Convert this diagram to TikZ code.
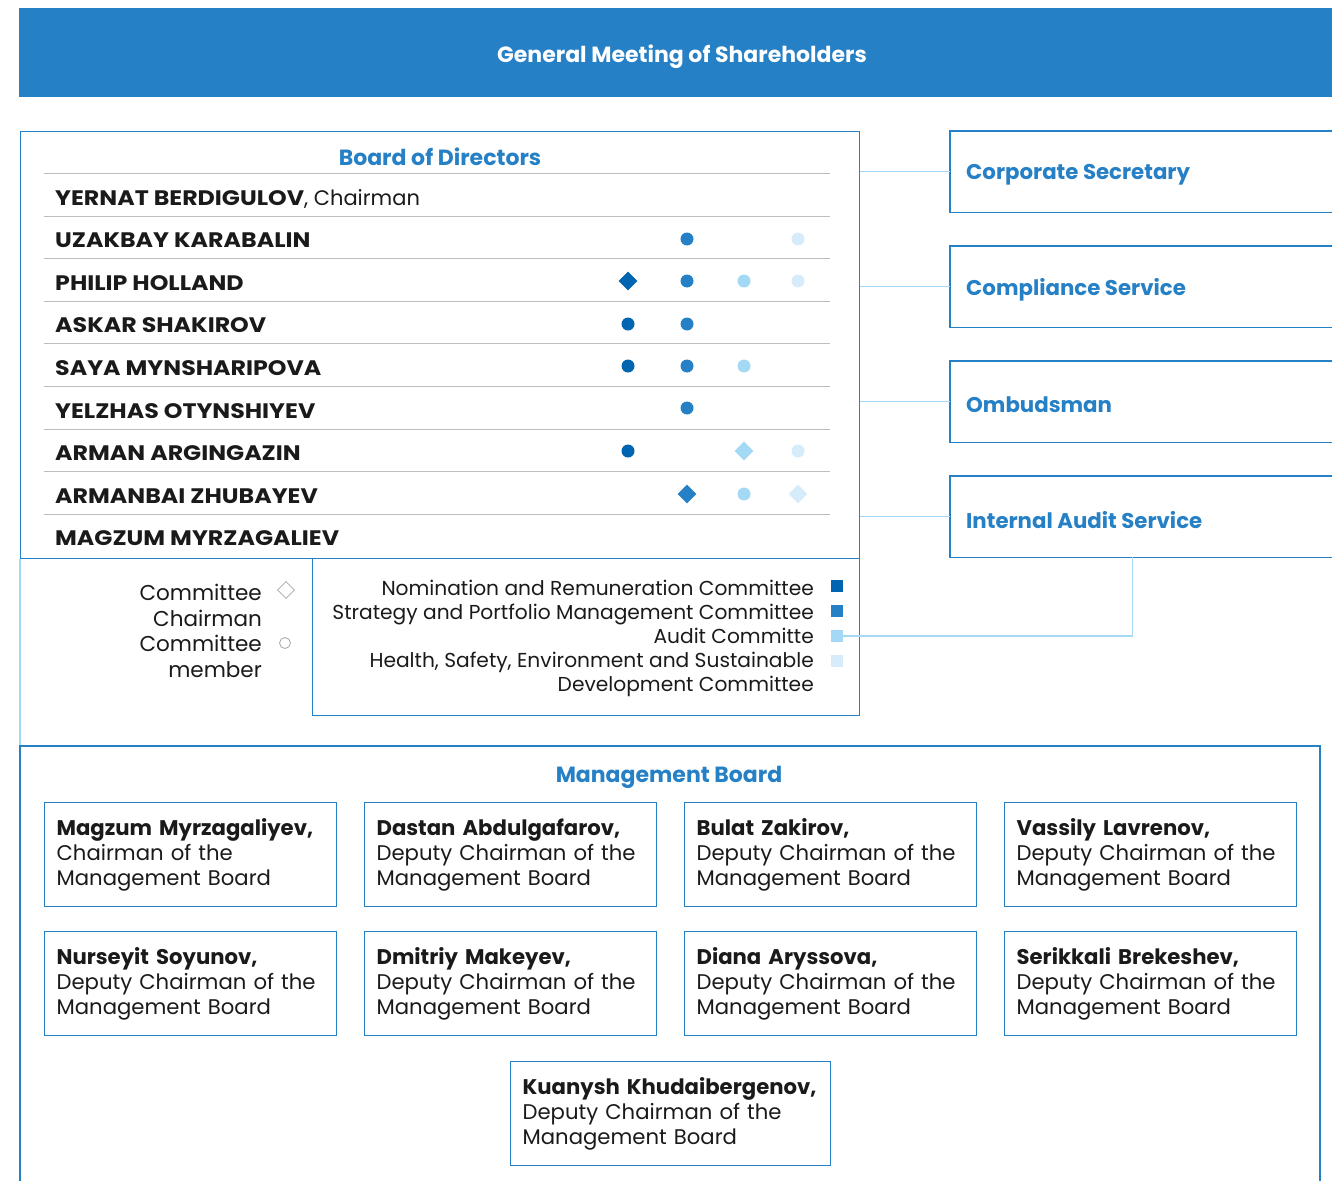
\documentclass[tikz,border=0pt]{standalone}
\usepackage{fontspec}
\setmainfont{Poppins}
\newfontfamily\capsfont{Poppins}[FakeStretch=1.13]
\usetikzlibrary{shapes.geometric,calc}
\definecolor{mainblue}{HTML}{2680C5}
\definecolor{darkblue}{HTML}{0065B0}
\definecolor{lightblue}{HTML}{A3D9F5}
\definecolor{paleblue}{HTML}{D6ECFA}
\definecolor{sepgray}{HTML}{BDBDBD}
\definecolor{txt}{HTML}{1A1A1A}
\begin{document}
\begin{tikzpicture}[x=1pt,y=-1pt,
  boxline/.style={draw=mainblue, line width=1.2pt},
  conn/.style={draw=lightblue, line width=1.2pt},
  sepline/.style={draw=sepgray, line width=1pt},
  heading/.style={text=mainblue, font=\fontsize{22}{26}\selectfont\bfseries, inner sep=0pt},
  svc/.style={text=mainblue, font=\fontsize{21.3}{25}\selectfont\bfseries, inner sep=0pt, anchor=west},
  rowname/.style={text=txt, font=\fontsize{21}{25}\selectfont, inner sep=0pt, anchor=base west},
  dotmark/.style={circle, fill=#1, minimum size=13pt, inner sep=0pt},
  diamark/.style={diamond, fill=#1, minimum size=19pt, inner sep=0pt},
  legtext/.style={text=txt, font=\fontsize{20.2}{24.2}\selectfont, inner sep=0pt, align=right, anchor=north east},
  mbox/.style={draw=mainblue, line width=1.2pt, minimum width=292pt, minimum height=104pt, text width=268pt,
     inner xsep=12pt, inner ysep=0pt, align=left, anchor=north west, text=txt, font=\fontsize{21.2}{25}\selectfont},
]
\useasboundingbox (0,0) rectangle (1332,1180);
% banner
\node[fill=mainblue, minimum width=1313pt, minimum height=89pt, anchor=north west, inner sep=0pt] (gms) at (19,8) {};
\node[text=white, font=\fontsize{22}{26}\selectfont\bfseries, inner sep=0pt] (gmst) at (682,57) {General Meeting of Shareholders};
% board of directors
\node[boxline, minimum width=839pt, minimum height=427pt, anchor=north west, inner sep=0pt] (board) at (20,131) {};
\node[heading] (bodt) at (440,157) {Board of Directors};
\foreach \y in {173,216,258,301,343,386,429,471,514} \draw[sepline] (44,\y) -- (830,\y);
\node[rowname] (r1) at (55,205) {{\capsfont\bfseries YERNAT BERDIGULOV}, Chairman};
\node[rowname] (r2) at (55,247) {\capsfont\bfseries UZAKBAY KARABALIN};
\node[rowname] (r3) at (55,290) {\capsfont\bfseries PHILIP HOLLAND};
\node[rowname] (r4) at (55,332) {\capsfont\bfseries ASKAR SHAKIROV};
\node[rowname] (r5) at (55,375) {\capsfont\bfseries SAYA MYNSHARIPOVA};
\node[rowname] (r6) at (55,418) {\capsfont\bfseries YELZHAS OTYNSHIYEV};
\node[rowname] (r7) at (55,460) {\capsfont\bfseries ARMAN ARGINGAZIN};
\node[rowname] (r8) at (55,503) {\capsfont\bfseries ARMANBAI ZHUBAYEV};
\node[rowname] (r9) at (55,545) {\capsfont\bfseries MAGZUM MYRZAGALIEV};
% marks
\node[dotmark=mainblue] (m22) at (687,239) {};
\node[dotmark=paleblue] (m24) at (798,239) {};
\node[diamark=darkblue] (m31) at (628,281) {};
\node[dotmark=mainblue] (m32) at (687,281) {};
\node[dotmark=lightblue] (m33) at (744,281) {};
\node[dotmark=paleblue] (m34) at (798,281) {};
\node[dotmark=darkblue] (m41) at (628,324) {};
\node[dotmark=mainblue] (m42) at (687,324) {};
\node[dotmark=darkblue] (m51) at (628,366) {};
\node[dotmark=mainblue] (m52) at (687,366) {};
\node[dotmark=lightblue] (m53) at (744,366) {};
\node[dotmark=mainblue] (m62) at (687,408) {};
\node[dotmark=darkblue] (m71) at (628,451) {};
\node[diamark=lightblue] (m73) at (744,451) {};
\node[dotmark=paleblue] (m74) at (798,451) {};
\node[diamark=mainblue] (m82) at (687,494) {};
\node[dotmark=lightblue] (m83) at (744,494) {};
\node[diamark=paleblue] (m84) at (798,494) {};
% legend box
\node[boxline, minimum width=547pt, minimum height=157pt, anchor=north west, inner sep=0pt] (leg) at (312,558) {};
\node[legtext] (lt) at (814,579.5) {Nomination and Remuneration Committee\\Strategy and Portfolio Management Committee\\Audit Committe\\Health, Safety, Environment and Sustainable\\Development Committee};
\node[fill=darkblue, minimum size=12pt, inner sep=0pt] (sq1) at (837,586) {};
\node[fill=mainblue, minimum size=12pt, inner sep=0pt] (sq2) at (837,611) {};
\node[fill=lightblue, minimum size=12pt, inner sep=0pt] (sq3) at (837,636) {};
\node[fill=paleblue, minimum size=12pt, inner sep=0pt] (sq4) at (837,661) {};
% left legend
\node[legtext, text width=160pt, font=\fontsize{21.5}{25.6}\selectfont] (kl) at (262,584) {Committee\\Chairman\\Committee\\member};
\node[diamond, draw=gray!70, line width=0.8pt, minimum size=17pt, inner sep=0pt] (kd) at (286,590) {};
\node[circle, draw=gray!70, line width=0.8pt, minimum size=11pt, inner sep=0pt] (kc) at (285,643) {};
% service boxes
\foreach \n/\y/\t in {cs/131/Corporate Secretary, cps/246/Compliance Service, omb/361/Ombudsman, ias/476/Internal Audit Service}{
  \node[minimum width=382pt, minimum height=81pt, anchor=north west, inner sep=0pt] (\n) at (950,\y) {};
  \draw[boxline] (\n.north east) -- (\n.north west) -- (\n.south west) -- (\n.south east);
  \node[svc] (\n t) at ($(\n.west)+(16,3)$) {\t};
}
\foreach \n in {cs,cps,omb,ias} \draw[conn] (board.east |- \n.west) -- (\n.west);
\draw[conn] (sq3.east) -| ([xshift=-9pt]ias.south);
% management board
\coordinate (mbtl) at (20,746);
\coordinate (mbtr) at (1320,746);
\draw[conn] (board.south west) -- (mbtl);
\draw[boxline] (20,1181) -- (mbtl) -- (mbtr) -- (1320,1181);
\node[heading] (mbt) at (669,777) {Management Board};
\node[mbox] (p1) at (44,802) {\textbf{Magzum Myrzagaliyev,}\\Chairman of the\\Management Board};
\node[mbox] (p2) at (364,802) {\textbf{Dastan Abdulgafarov,}\\Deputy Chairman of the\\Management Board};
\node[mbox] (p3) at (684,802) {\textbf{Bulat Zakirov,}\\Deputy Chairman of the\\Management Board};
\node[mbox] (p4) at (1004,802) {\textbf{Vassily Lavrenov,}\\Deputy Chairman of the\\Management Board};
\node[mbox] (p5) at (44,931) {\textbf{Nurseyit Soyunov,}\\Deputy Chairman of the\\Management Board};
\node[mbox] (p6) at (364,931) {\textbf{Dmitriy Makeyev,}\\Deputy Chairman of the\\Management Board};
\node[mbox] (p7) at (684,931) {\textbf{Diana Aryssova,}\\Deputy Chairman of the\\Management Board};
\node[mbox] (p8) at (1004,931) {\textbf{Serikkali Brekeshev,}\\Deputy Chairman of the\\Management Board};
\node[mbox, minimum width=320pt, text width=296pt] (p9) at (510,1061) {\textbf{Kuanysh Khudaibergenov,}\\Deputy Chairman of the\\Management Board};
\end{tikzpicture}
\end{document}
